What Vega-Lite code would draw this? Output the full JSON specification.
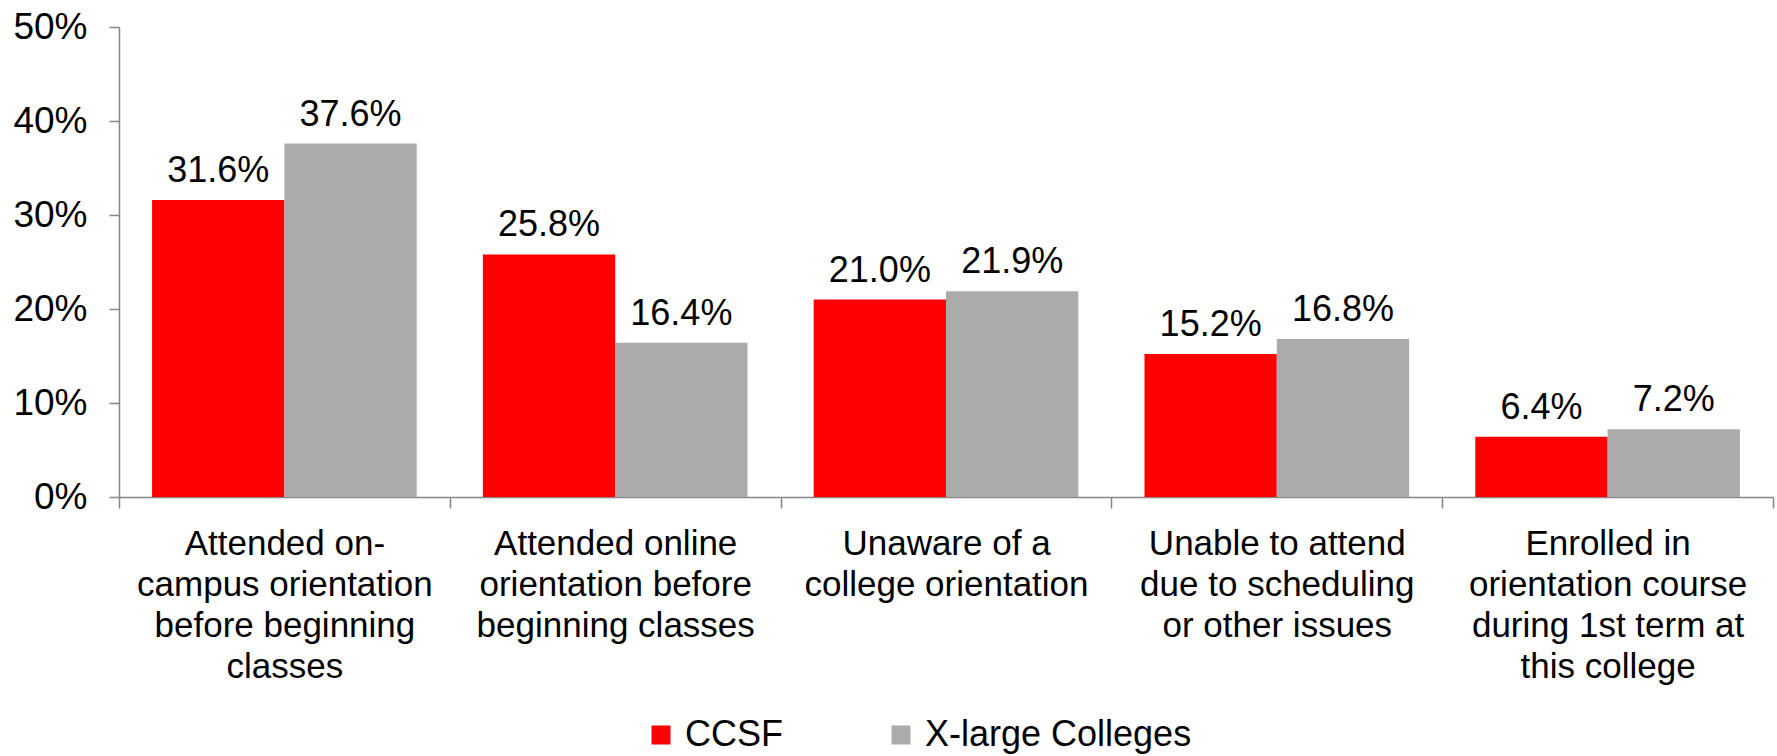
{
  "$schema": "https://vega.github.io/schema/vega-lite/v6.json",
  "width": 1654,
  "height": 470,
  "autosize": {"type": "none"},
  "padding": {"left": 119, "top": 27, "right": 4, "bottom": 259},
  "background": "white",
  "config": {"view": {"stroke": null}, "font": "Liberation Sans"},
  "data": {
    "values": [
      {"category": "Attended on-|campus orientation|before beginning|classes", "group": "CCSF", "value": 0.316},
      {"category": "Attended on-|campus orientation|before beginning|classes", "group": "X-large Colleges", "value": 0.376},
      {"category": "Attended online|orientation before|beginning classes", "group": "CCSF", "value": 0.258},
      {"category": "Attended online|orientation before|beginning classes", "group": "X-large Colleges", "value": 0.164},
      {"category": "Unaware of a|college orientation", "group": "CCSF", "value": 0.21},
      {"category": "Unaware of a|college orientation", "group": "X-large Colleges", "value": 0.219},
      {"category": "Unable to attend|due to scheduling|or other issues", "group": "CCSF", "value": 0.152},
      {"category": "Unable to attend|due to scheduling|or other issues", "group": "X-large Colleges", "value": 0.168},
      {"category": "Enrolled in|orientation course|during 1st term at|this college", "group": "CCSF", "value": 0.064},
      {"category": "Enrolled in|orientation course|during 1st term at|this college", "group": "X-large Colleges", "value": 0.072}
    ]
  },
  "encoding": {
    "x": {
      "field": "category",
      "type": "nominal",
      "sort": null,
      "scale": {"paddingInner": 0, "paddingOuter": 0},
      "axis": {
        "title": null,
        "labelAngle": 0,
        "tickBand": "extent",
        "tickSize": 11,
        "tickWidth": 1.5,
        "tickColor": "#868686",
        "domainColor": "#868686",
        "domainWidth": 1.5,
        "labelPadding": 18,
        "labelFontSize": 35,
        "labelColor": "#000000",
        "labelLineHeight": 41,
        "labelBaseline": "top",
        "labelExpr": "split(datum.label, '|')",
        "labelLimit": 400,
        "labelOverlap": false,
        "labelBound": false
      }
    },
    "xOffset": {
      "field": "group",
      "type": "nominal",
      "sort": ["CCSF", "X-large Colleges"],
      "scale": {"paddingInner": 0, "paddingOuter": 0.25}
    },
    "y": {
      "field": "value",
      "type": "quantitative",
      "scale": {"domain": [0, 0.5]},
      "axis": {
        "title": null,
        "values": [0, 0.1, 0.2, 0.3, 0.4, 0.5],
        "format": ".0%",
        "grid": false,
        "tickSize": 10,
        "tickWidth": 1.5,
        "tickColor": "#868686",
        "domainColor": "#868686",
        "domainWidth": 1.5,
        "labelPadding": 22,
        "labelFontSize": 37,
        "labelColor": "#000000"
      }
    }
  },
  "layer": [
    {
      "mark": {"type": "bar"},
      "encoding": {
        "color": {
          "field": "group",
          "type": "nominal",
          "sort": ["CCSF", "X-large Colleges"],
          "scale": {"domain": ["CCSF", "X-large Colleges"], "range": ["#ff0000", "#ababab"]},
          "legend": {
            "title": null,
            "orient": "none",
            "legendX": 524,
            "legendY": 690,
            "padding": 0,
            "direction": "horizontal",
            "symbolType": "square",
            "symbolSize": 361,
            "symbolStrokeWidth": 0,
            "symbolOpacity": 1,
            "labelFontSize": 36,
            "labelColor": "#000000",
            "labelOffset": 6,
            "labelLimit": 500,
            "columnPadding": 100
          }
        }
      }
    },
    {
      "mark": {"type": "text", "dy": -18, "baseline": "alphabetic", "fontSize": 36, "color": "#000000"},
      "encoding": {"text": {"field": "value", "type": "quantitative", "format": ".1%"}}
    }
  ]
}
